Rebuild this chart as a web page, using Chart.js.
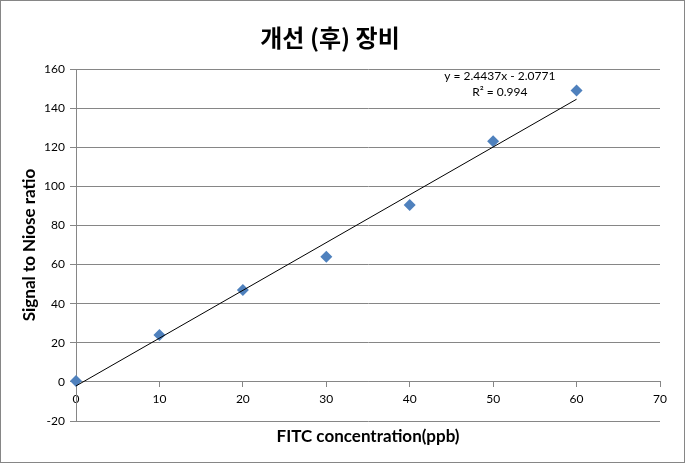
<!DOCTYPE html>
<html>
<head>
<meta charset="utf-8">
<script src="https://cdn.jsdelivr.net/npm/chart.js@4"></script>
<style>
  body { margin: 0; background: #fff; }
</style>
</head>
<body>
<canvas id="myChart" width="685" height="464"></canvas>
<script>
// data
const concentrations = [0, 10, 20, 30, 40, 50, 60];
const signalToNoise = [0.5, 24, 47, 64, 90.5, 123, 149];
const yTicks = [-20, 0, 20, 40, 60, 80, 100, 120, 140, 160];
const xTicks = [0, 10, 20, 30, 40, 50, 60, 70];

// trend line as printed on the chart
const trendSlope = 2.4437;
const trendIntercept = -2.0771;
const trendLabel = ['y = 2.4437x - 2.0771', 'R\u00b2 = 0.994'];
const trendLabelAt = { x: 50.8, y: 156.5 };

const gridGrey = '#868686';
const latin = 'Lato, "Open Sans", sans-serif';

const points = concentrations.map((x, i) => ({ x: x, y: signalToNoise[i] }));
const xFirst = concentrations[0];
const xLast = concentrations[concentrations.length - 1];
const trendPoints = [
    { x: xFirst, y: trendSlope * xFirst + trendIntercept },
    { x: xLast, y: trendSlope * xLast + trendIntercept }
];

// frame around the whole chart + the equation text
const extras = {
    id: 'extras',
    afterDraw(chart) {
        const c = chart.ctx;
        c.save();
        c.strokeStyle = gridGrey;
        c.lineWidth = 1;
        c.strokeRect(0.5, 0.5, 684, 462);

        const px = chart.scales.x.getPixelForValue(trendLabelAt.x);
        const py = chart.scales.y.getPixelForValue(trendLabelAt.y);
        c.fillStyle = '#000';
        c.font = '12px ' + latin;
        c.textAlign = 'center';
        c.textBaseline = 'middle';
        c.fillText(trendLabel[0], px, py);
        c.fillText(trendLabel[1], px, py + 16);
        c.restore();
    }
};

const ctx = document.getElementById('myChart').getContext('2d');

new Chart(ctx, {
    type: 'scatter',
    data: {
        datasets: [{
            type: 'line',
            data: trendPoints,
            borderColor: '#000',
            borderWidth: 1,
            pointRadius: 0,
            fill: false,
            order: 0
        }, {
            data: points,
            pointStyle: 'rectRot',
            pointRadius: 6,
            backgroundColor: '#4F81BD',
            borderColor: '#4F81BD',
            borderWidth: 0,
            clip: false,
            order: 1
        }]
    },
    options: {
        responsive: false,
        animation: false,
        layout: { padding: { top: 0, left: 0, right: 25, bottom: 0 } },
        plugins: {
            legend: { display: false },
            tooltip: { enabled: false },
            title: {
                display: true,
                text: '개선 (후) 장비',
                color: '#000',
                font: { family: '"Noto Sans CJK KR", sans-serif', size: 24, weight: 'bold' },
                padding: { top: 23.6, bottom: 16.6 }
            }
        },
        scales: {
            x: {
                type: 'linear',
                position: { y: 0 },
                min: 0,
                max: 70,
                afterBuildTicks: (scale) => { scale.ticks = xTicks.map(v => ({ value: v })); },
                afterFit: (scale) => { scale.height = 0; },
                grid: { drawOnChartArea: false, color: gridGrey, tickLength: 5 },
                border: { color: gridGrey },
                ticks: { color: '#000', padding: 5, font: { family: latin, size: 12 } }
            },
            x2: {
                type: 'linear',
                axis: 'x',
                position: 'bottom',
                min: 0,
                max: 70,
                afterFit: (scale) => { scale.height = 43; },
                grid: { display: false },
                border: { display: false },
                ticks: { display: false },
                title: {
                    display: true,
                    text: 'FITC concentration(ppb)',
                    color: '#000',
                    font: { family: latin, size: 17, weight: 'bold' },
                    padding: { top: 0, bottom: 16.8 }
                }
            },
            y: {
                type: 'linear',
                position: 'left',
                min: -20,
                max: 160,
                afterBuildTicks: (scale) => { scale.ticks = yTicks.map(v => ({ value: v })); },
                afterFit: (scale) => { scale.width = 76; },
                grid: { color: gridGrey, tickLength: 6 },
                border: { color: gridGrey },
                ticks: { color: '#000', padding: 5, font: { family: latin, size: 12 } },
                title: {
                    display: true,
                    text: 'Signal to Niose ratio',
                    color: '#000',
                    font: { family: latin, size: 17, weight: 'bold' },
                    padding: { top: 19.8, bottom: 0 }
                }
            }
        }
    },
    plugins: [extras]
});
</script>
</body>
</html>
